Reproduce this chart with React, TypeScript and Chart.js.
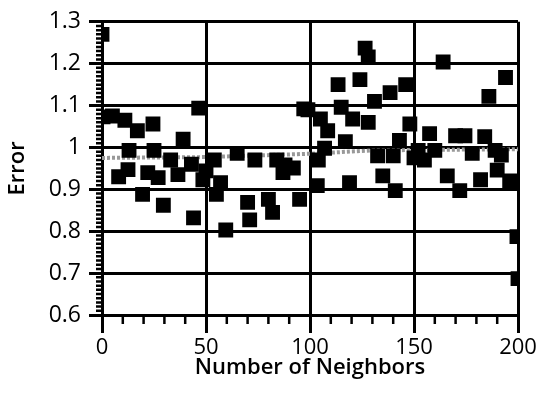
import React, { useEffect, useRef } from "react";
import { Chart, registerables } from "chart.js";

Chart.register(...registerables);

const xValues = [
  0, 0.5, 5, 11, 13, 8, 12.5, 17, 19.5, 22, 24.5, 25, 27, 29.5, 33, 36.5, 39, 43, 44, 46.5,
  48.5, 50, 54, 55, 57, 59.5, 65, 70, 71, 73.5, 80, 82, 84, 87, 88, 92, 95, 97, 99, 103.5,
  104, 105, 107, 108.5, 113.5, 115, 117, 119, 120.5, 124, 126.5, 128, 128, 131, 132.5, 135, 138.5, 140, 141, 143,
  146, 148, 150, 152, 155, 157.5, 160, 164, 166, 170, 172, 174.5, 178, 182, 184, 186, 189, 190, 192, 194,
  196, 199.5, 200,
];
const yValues = [
  1.27, 1.073, 1.075, 1.065, 0.993, 0.93, 0.947, 1.04, 0.888, 0.94, 1.056, 0.993, 0.928, 0.862, 0.97, 0.935, 1.02, 0.96, 0.832, 1.094,
  0.923, 0.944, 0.97, 0.888, 0.916, 0.803, 0.986, 0.869, 0.827, 0.97, 0.876, 0.845, 0.97, 0.94, 0.958, 0.951, 0.876, 1.092, 1.09, 0.909,
  0.97, 1.068, 0.998, 1.04, 1.15, 1.096, 1.014, 0.916, 1.068, 1.162, 1.237, 1.216, 1.06, 1.11, 0.98, 0.932, 1.131, 0.98, 0.897, 1.017,
  1.15, 1.056, 0.975, 0.993, 0.97, 1.033, 0.993, 1.204, 0.932, 1.028, 0.897, 1.028, 0.986, 0.923, 1.026, 1.122, 0.993, 0.946, 0.982, 1.167,
  0.92, 0.787, 0.687,
];
const refX = [0, 50, 100, 130, 200];
const refY = [0.975, 0.977, 0.985, 0.993, 0.996];

const FONT = "'Open Sans', sans-serif";

const minorTicks = {
  id: "minorTicks",
  afterDraw(chart: any) {
    const ctx = chart.ctx;
    const area = chart.chartArea;
    const xs = chart.scales.x;
    const ys = chart.scales.y;
    ctx.save();
    ctx.strokeStyle = "#000";
    ctx.lineWidth = 2.5;
    ctx.beginPath();
    for (let v = 0; v <= 200; v += 10) {
      if (v % 50 === 0) continue;
      const px = xs.getPixelForValue(v);
      ctx.moveTo(px, area.bottom);
      ctx.lineTo(px, area.bottom + 9);
    }
    for (let i = 60; i <= 130; i++) {
      if (i % 10 === 0) continue;
      const py = ys.getPixelForValue(i / 100);
      ctx.moveTo(area.left, py);
      ctx.lineTo(area.left - 6, py);
    }
    ctx.stroke();
    ctx.restore();
  },
};

export default function App() {
  const ref = useRef<HTMLCanvasElement>(null);
  useEffect(() => {
    const pts = xValues.map((x, i) => ({ x, y: yValues[i] }));
    const ref2 = refX.map((x, i) => ({ x, y: refY[i] }));
    const chart = new Chart(ref.current!, {
      type: "scatter",
      data: {
        datasets: [
          {
            data: pts,
            pointStyle: "rect",
            pointRadius: 10.5,
            backgroundColor: "#000",
            borderColor: "#000",
            borderWidth: 0,
            order: 0,
          },
          {
            type: "line",
            data: ref2,
            borderColor: "#999",
            borderWidth: 4,
            borderDash: [3, 2],
            pointRadius: 0,
            fill: false,
            order: 1,
          } as any,
        ],
      },
      options: {
        animation: false,
        responsive: false,
        layout: { padding: { top: 16, right: 26, left: 0, bottom: 0 } },
        plugins: { legend: { display: false }, tooltip: { enabled: false } },
        scales: {
          x: {
            type: "linear",
            min: 0,
            max: 200,
            afterFit(scale: any) {
              scale.height = 78;
            },
            ticks: {
              stepSize: 50,
              color: "#000",
              font: { family: FONT, size: 22, lineHeight: 1 },
              padding: 4,
            },
            grid: { color: "#000", lineWidth: 3, tickLength: 18, tickWidth: 3 },
            border: { color: "#000", width: 3 },
            title: {
              display: true,
              text: "Number of Neighbors",
              color: "#000",
              font: { family: FONT, size: 22, weight: "600", lineHeight: 1.1 },
              padding: { top: 0, bottom: 13 },
            },
          },
          y: {
            type: "linear",
            min: 0.6,
            max: 1.3,
            afterFit(scale: any) {
              scale.width = 102;
            },
            ticks: {
              stepSize: 0.1,
              color: "#000",
              font: { family: FONT, size: 23 },
              padding: 8,
              callback: (v: any) => String(Math.round(Number(v) * 10) / 10),
            },
            grid: { color: "#000", lineWidth: 3, tickLength: 13, tickWidth: 3 },
            border: { color: "#000", width: 3 },
            title: {
              display: true,
              text: "Error",
              color: "#000",
              font: { family: FONT, size: 22, weight: "600", lineHeight: 1.1 },
              padding: { top: 6, bottom: 0 },
            },
          },
        },
      },
      plugins: [minorTicks],
    });
    return () => chart.destroy();
  }, []);
  return (
    <div style={{ position: "absolute", left: 0, top: 0, width: 544, height: 393, background: "#fff" }}>
      <canvas ref={ref} width={544} height={393} />
    </div>
  );
}
